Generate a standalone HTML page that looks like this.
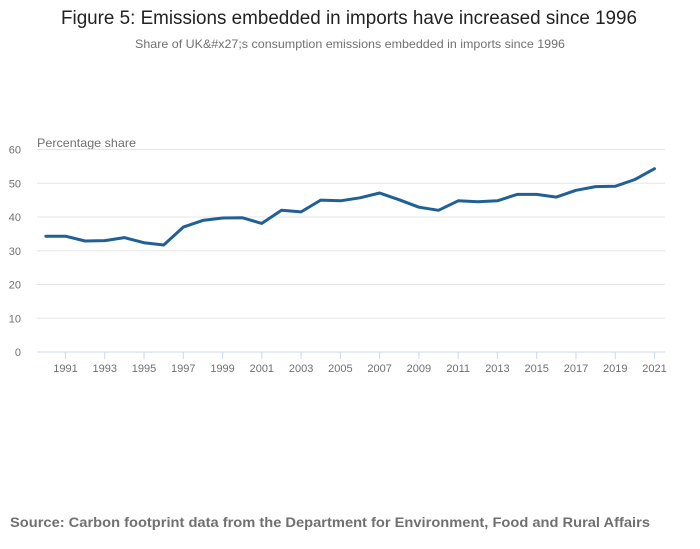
<!DOCTYPE html>
<html><head><meta charset="utf-8"><style>
html,body{margin:0;padding:0;background:#fff;width:700px;height:549px;overflow:hidden}
svg text{font-family:"Liberation Sans",sans-serif}
</style></head><body>
<svg id="chart" width="700" height="549" viewBox="0 0 700 549" xmlns="http://www.w3.org/2000/svg">
<text x="349" y="24" text-anchor="middle" font-size="19" fill="#222" textLength="576" lengthAdjust="spacingAndGlyphs">Figure 5: Emissions embedded in imports have increased since 1996</text>
<text x="350" y="48" text-anchor="middle" font-size="12" fill="#707070" textLength="430" lengthAdjust="spacingAndGlyphs">Share of UK&amp;#x27;s consumption emissions embedded in imports since 1996</text>
<text x="37" y="147" font-size="12" fill="#707070" textLength="99" lengthAdjust="spacingAndGlyphs">Percentage share</text>
<g id="grid"></g><g id="yticks"></g><g id="xticks"></g>
<path id="line" fill="none" stroke="#206095" stroke-width="3" stroke-linejoin="round" stroke-linecap="round"/>
<text x="10" y="527" font-size="13.5" font-weight="bold" fill="#707070" textLength="640" lengthAdjust="spacingAndGlyphs">Source: Carbon footprint data from the Department for Environment, Food and Rural Affairs</text>
</svg>
<script>
const years=[1990,1991,1992,1993,1994,1995,1996,1997,1998,1999,2000,2001,2002,2003,2004,2005,2006,2007,2008,2009,2010,2011,2012,2013,2014,2015,2016,2017,2018,2019,2020,2021];
const shares=[34.3,34.3,32.9,33.0,33.9,32.4,31.7,37.0,39.0,39.7,39.8,38.1,42.0,41.5,45.0,44.8,45.7,47.1,45.1,42.9,42.0,44.8,44.5,44.8,46.7,46.7,45.9,47.9,49.0,49.1,51.1,54.3];
const yTicks=[0,10,20,30,40,50,60];
const xTickLabels=[1991,1993,1995,1997,1999,2001,2003,2005,2007,2009,2011,2013,2015,2017,2019,2021];
const NS="http://www.w3.org/2000/svg";
const x=v=>65.5+(v-1991)*(589/30);
const y=v=>352-v*(202.5/60);
function mk(t,a,p){const e=document.createElementNS(NS,t);for(const k in a)e.setAttribute(k,a[k]);p.appendChild(e);return e;}
const grid=document.getElementById('grid'),yt=document.getElementById('yticks'),xt=document.getElementById('xticks');
yTicks.forEach(v=>{
  const l=mk('line',{x1:37,x2:665,y1:y(v),y2:y(v),stroke:v===0?'#ccd6eb':'#e6e6e6','stroke-width':1},grid);
  
  
  const t=mk('text',{x:21,y:y(v)+4,'text-anchor':'end','font-size':11,fill:'#707070'},yt);
  t.textContent=v;
  
  
});
xTickLabels.forEach(v=>{
  const l=mk('line',{x1:x(v),x2:x(v),y1:352,y2:359,stroke:'#ccd6eb','stroke-width':1},xt);
  
  
  const t=mk('text',{x:x(v),y:372,'text-anchor':'middle','font-size':11,fill:'#707070'},xt);
  t.textContent=v;
  
  
});
document.getElementById('line').setAttribute('d',years.map((yr,i)=>(i?'L':'M')+x(yr).toFixed(1)+','+y(shares[i]).toFixed(1)).join(''));
</script>
</body></html>
